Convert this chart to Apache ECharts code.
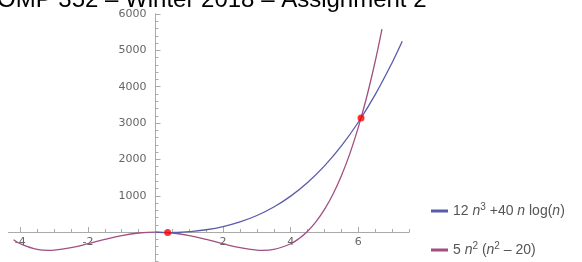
<!DOCTYPE html>
<html>
<head>
<meta charset="utf-8">
<script src="https://cdn.jsdelivr.net/npm/echarts@6/dist/echarts.min.js"></script>
<style>
  html, body { margin: 0; padding: 0; background: #fff; }
  #chart { width: 582px; height: 262px; }
</style>
</head>
<body>
<div id="chart"></div>
<script>
// values
const blueN = [0.01, 0.1, 0.2, 0.35, 0.5, 0.75, 1, 1.5, 2, 2.5, 3, 3.5, 4, 4.5, 5, 5.5, 6, 6.5, 7, 7.3];
const blueVal = [-2, -9, -13, -14, -12, -4, 12, 65, 151, 279, 456, 690, 990, 1364, 1822, 2372, 3022, 3782, 4661, 5248];

const magentaN = [-4.2, -4, -3.5, -3.16, -3, -2.5, -2, -1.5, -1, -0.5, 0, 0.5, 1, 1.5, 2, 2.5, 3, 3.16, 3.5, 4, 4.25, 4.5, 4.75, 5, 5.25, 5.5, 5.75, 6, 6.25, 6.5, 6.7];
const magentaVal = [-208, -320, -475, -500, -495, -430, -320, -200, -95, -25, 0, -25, -95, -200, -320, -430, -495, -500, -475, -320, -175, 25, 289, 625, 1042, 1550, 2159, 2880, 3723, 4700, 5587];

const dotN = [0.36, 6.08];
const dotVal = [-13, 3137];

const xMajorTicks = [-4, -2, 0, 2, 4, 6];
const xLabels = [-4, -2, 2, 4, 6];
const xMinorTicks = [-4, -3.5, -3, -2.5, -2, -1.5, -1, -0.5, 0, 0.5, 1, 1.5, 2, 2.5, 3, 3.5, 4, 4.5, 5, 5.5, 6, 6.5, 7, 7.5];
const yMajorTicks = [0, 1000, 2000, 3000, 4000, 5000, 6000];
const yLabels = [1000, 2000, 3000, 4000, 5000, 6000];
const yMinorTicks = [-800, -600, -400, -200, 0, 200, 400, 600, 800, 1000, 1200, 1400, 1600, 1800, 2000, 2200, 2400, 2600, 2800, 3000,
  3200, 3400, 3600, 3800, 4000, 4200, 4400, 4600, 4800, 5000, 5200, 5400, 5600, 5800, 6000];

const titleText = 'OMP 352 – Winter 2018 – Assignment 2';
const blueName = '12n^3 + 40 n log(n)';
const magentaName = '5 n^2 (n^2 - 20)';

const zip = (a, b) => a.map((v, i) => [v, b[i]]);

const chart = echarts.init(document.getElementById('chart'));

const axisGray = '#aaaaaa';
const labelGray = '#666666';
// grid 8.5..409 wide, 14..263 tall; the axes sit on the zero lines
const xZeroOffset = -31;     // x axis moved up from grid bottom to value 0
const yZeroOffset = -147;    // y axis moved right from grid left to n = 0
const legendRich = {
  i: { fontStyle: 'italic', fontSize: 14, fontFamily: 'Liberation Sans', color: '#555' },
  sup: { fontSize: 10, fontFamily: 'Liberation Sans', color: '#555', verticalAlign: 'top', lineHeight: 18 },
  t: { fontSize: 14, fontFamily: 'Liberation Sans', color: '#555' }
};

const plainNum = v => String(v);

const option = {
  animation: false,
  graphic: [{
    type: 'text',
    x: -3,
    y: 0,
    style: {
      text: titleText,
      font: '24px "Liberation Sans"',
      fill: '#000',
      verticalAlign: 'middle'
    }
  }],
  legend: [{
    data: [blueName],
    left: 426,
    top: 197,
    icon: 'rect',
    itemWidth: 17,
    itemHeight: 3,
    itemGap: 0,
    formatter: () => '{t|12 }{i|n}{sup|3}{t| +40 }{i|n}{t| log(}{i|n}{t|)}',
    textStyle: { rich: legendRich, lineHeight: 18 }
  }, {
    data: [magentaName],
    left: 426,
    top: 236,
    icon: 'rect',
    itemWidth: 17,
    itemHeight: 3,
    itemGap: 0,
    formatter: () => '{t|5 }{i|n}{sup|2}{t| (}{i|n}{sup|2}{t| – 20)}',
    textStyle: { rich: legendRich, lineHeight: 18 }
  }],
  grid: { left: 8.5, width: 400.5, top: 14, height: 249, outerBoundsMode: 'none', containLabel: false },
  xAxis: [{
    type: 'value',
    min: -4.35,
    max: 7.5,
    position: 'bottom',
    offset: xZeroOffset,
    splitLine: { show: false },
    axisLine: { onZero: false, lineStyle: { color: axisGray, width: 1 } },
    axisTick: { inside: true, length: 5, customValues: xMajorTicks, lineStyle: { color: axisGray } },
    axisLabel: { customValues: xLabels, formatter: plainNum, color: labelGray, fontFamily: 'DejaVu Sans', fontSize: 11, margin: 5 }
  }, {
    type: 'value',
    min: -4.35,
    max: 7.5,
    position: 'bottom',
    offset: xZeroOffset,
    splitLine: { show: false },
    axisLine: { onZero: false, lineStyle: { color: axisGray, width: 1 } },
    axisTick: { inside: true, length: 3, customValues: xMinorTicks, lineStyle: { color: axisGray } },
    axisLabel: { show: false }
  }],
  yAxis: [{
    type: 'value',
    min: -850,
    max: 6000,
    position: 'left',
    offset: yZeroOffset,
    splitLine: { show: false },
    axisLine: { onZero: false, lineStyle: { color: axisGray, width: 1 } },
    axisTick: { inside: true, length: 5, customValues: yMajorTicks, lineStyle: { color: axisGray } },
    axisLabel: { customValues: yLabels, formatter: plainNum, color: labelGray, fontFamily: 'DejaVu Sans', fontSize: 11, margin: 9 }
  }, {
    type: 'value',
    min: -850,
    max: 6000,
    position: 'left',
    offset: yZeroOffset,
    splitLine: { show: false },
    axisLine: { onZero: false, lineStyle: { color: axisGray, width: 1 } },
    axisTick: { inside: true, length: 3, customValues: yMinorTicks, lineStyle: { color: axisGray } },
    axisLabel: { show: false }
  }],
  series: [{
    name: magentaName,
    type: 'line',
    data: zip(magentaN, magentaVal),
    smooth: 0.4,
    showSymbol: false,
    color: '#a14f80',
    lineStyle: { width: 1.3 }
  }, {
    name: blueName,
    type: 'line',
    data: zip(blueN, blueVal),
    smooth: 0.4,
    showSymbol: false,
    color: '#5b5bab',
    lineStyle: { width: 1.3 }
  }, {
    type: 'scatter',
    data: zip(dotN, dotVal),
    symbolSize: 7,
    itemStyle: { color: '#ff0000' },
    z: 5
  }]
};

chart.setOption(option);
</script>
</body>
</html>
